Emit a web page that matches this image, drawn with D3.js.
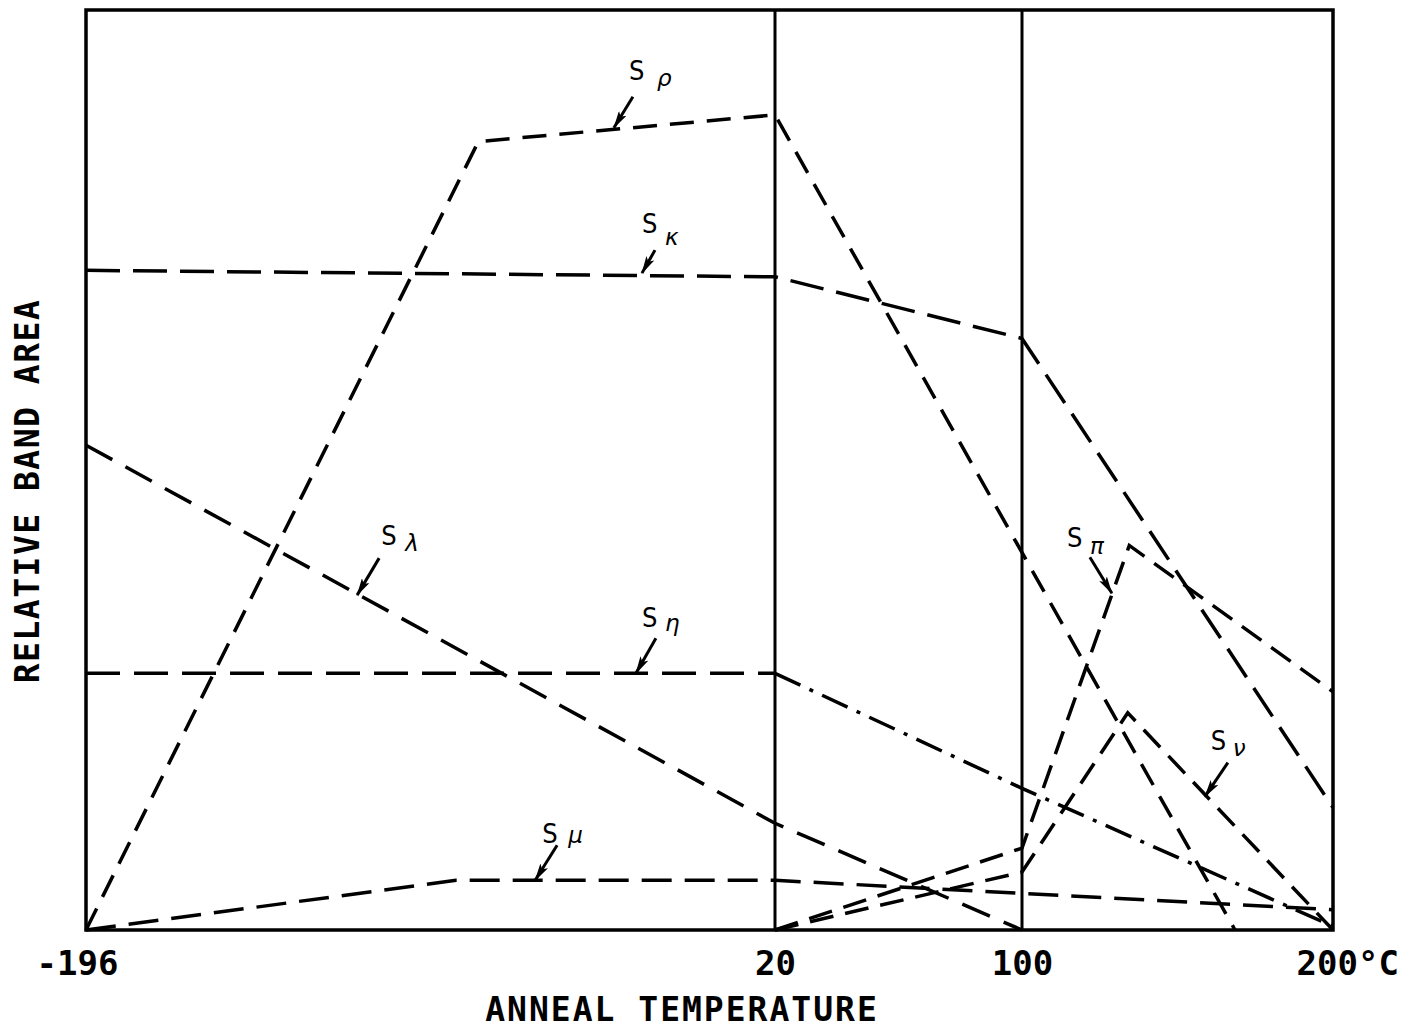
<!DOCTYPE html>
<html>
<head>
<meta charset="utf-8">
<script src="https://cdn.jsdelivr.net/npm/d3@7"></script>
<style>
body{margin:0;background:#fff;}
svg text{font-family:"DejaVu Sans Mono",monospace;fill:#000;}
</style>
</head>
<body>
<svg id="chart"></svg>
<script>
// temperatures marked on the axis (deg C) and how they are printed
const tickTemps = [-196, 20, 100, 200];
const tickLabels = ["-196", "20", "100", "200°C"];

// relative band area (0 = baseline, 100 = top of frame)
const sRho    = [[-196, 0], [-73, 85.7], [20, 88.6], [168.5, 0]];
const sKappa  = [[-196, 71.7], [20, 71.0], [100, 64.3], [200, 13.3]];
const sLambda = [[-196, 52.7], [20, 11.6], [100, 0]];
const sEta    = [[-196, 27.9], [20, 27.9], [100, 15.4], [200, 0.4]];
const sMu     = [[-196, 0], [-80, 5.4], [20, 5.4], [200, 2.2]];
const sPi     = [[20, 0], [100, 8.9], [134.5, 41.8], [200, 25.9]];
const sNu     = [[20, 0], [100, 6.3], [134, 23.6], [200, 0]];

// where each S label points to (deg C, area)
const labelNames = ["ρ", "κ", "λ", "η", "μ", "π", "ν"];
const labelTips  = [[-30.5, 87.2], [-21.7, 71.4], [-111, 36.4], [-23.6, 27.9], [-55.2, 5.4], [128.9, 36.6], [158.8, 14.5]];

const [w, h] = [1403, 1031];
const svg = d3.select("#chart").attr("width", w).attr("height", h);

// the printed axis is not quite linear, so use a piecewise scale through the marked temps
const x = d3.scaleLinear().domain(tickTemps).range([86, 775, 1022, 1333]);
const y = d3.scaleLinear().domain([0, 100]).range([930, 10]);

const line = d3.line().x(d => x(d[0])).y(d => y(d[1]));

// frame + the two vertical rules at 20 and 100
svg.append("rect")
  .attr("x", x(-196)).attr("y", y(100))
  .attr("width", x(200) - x(-196)).attr("height", y(0) - y(100))
  .attr("fill", "none").attr("stroke", "#000").attr("stroke-width", 3.5);
svg.selectAll("line.rule").data([20, 100]).enter().append("line")
  .attr("class", "rule")
  .attr("x1", d => x(d)).attr("x2", d => x(d))
  .attr("y1", y(100)).attr("y2", y(0))
  .attr("stroke", "#000").attr("stroke-width", 3);

// curves
const series = [
  {data: sRho, dash: "24,13"},
  {data: sKappa, dash: "34,13"},
  {data: sLambda, dash: "30,15"},
  {data: sEta.filter(d => d[0] <= 20), dash: "34,14"},
  {data: sEta.filter(d => d[0] >= 20), dash: "28,10,4,10"},
  {data: sMu, dash: "30,13"},
  {data: sPi, dash: "24,12"},
  {data: sNu, dash: "24,12"}
];
svg.selectAll("path.curve").data(series).enter().append("path")
  .attr("class", "curve")
  .attr("d", d => line(d.data))
  .attr("fill", "none").attr("stroke", "#000")
  .attr("stroke-width", 3.5)
  .attr("stroke-dasharray", d => d.dash);

// arrow head for the labels
svg.append("defs").append("marker")
  .attr("id", "head").attr("markerUnits", "userSpaceOnUse")
  .attr("markerWidth", 18).attr("markerHeight", 9)
  .attr("refX", 17).attr("refY", 4.5).attr("orient", "auto")
  .append("path").attr("d", "M0,0 L18,4.5 L0,9 L4,4.5 Z").attr("fill", "#000");

// label layout: arrow start and text offsets from the tip, in px
const labelLayout = [
  {arrow: [19, -31], s: [15, -48], g: [43, -42]},
  {arrow: [13, -23], s: [0, -40], g: [23, -28]},
  {arrow: [22, -37], s: [24, -50], g: [48, -44]},
  {arrow: [20, -35], s: [6, -46], g: [29, -42]},
  {arrow: [22, -35], s: [7, -37], g: [33, -37]},
  {arrow: [-22, -36], s: [-45, -46], g: [-22, -39]},
  {arrow: [23, -34], s: [6, -47], g: [28, -41]}
];

const labels = svg.selectAll("g.lab").data(labelNames).enter().append("g")
  .attr("class", "lab")
  .attr("transform", (d, i) => `translate(${x(labelTips[i][0])},${y(labelTips[i][1])})`);
labels.append("line")
  .attr("x1", (d, i) => labelLayout[i].arrow[0]).attr("y1", (d, i) => labelLayout[i].arrow[1])
  .attr("x2", 0).attr("y2", 0)
  .attr("stroke", "#000").attr("stroke-width", 3)
  .attr("marker-end", "url(#head)");
labels.append("text")
  .attr("x", (d, i) => labelLayout[i].s[0]).attr("y", (d, i) => labelLayout[i].s[1])
  .style("font-family", "'DejaVu Sans Condensed','DejaVu Sans',sans-serif")
  .style("font-size", "27px")
  .text("S");
labels.append("text")
  .attr("x", (d, i) => labelLayout[i].g[0]).attr("y", (d, i) => labelLayout[i].g[1])
  .style("font-family", "'DejaVu Sans',sans-serif")
  .style("font-size", "23px").style("font-style", "italic")
  .text(d => d);

// x axis labels
const xAxis = d3.axisBottom(x).tickValues(tickTemps)
  .tickFormat((d, i) => tickLabels[i]).tickSize(0);
const gx = svg.append("g").attr("transform", `translate(0,${y(0)})`).call(xAxis);
gx.select(".domain").remove();
gx.selectAll("text")
  .attr("y", 45).attr("dy", null)
  .style("font-family", "'DejaVu Sans Mono',monospace")
  .style("font-size", "34px").style("font-weight", "bold");
gx.selectAll("text").filter((d, i) => i === 0).attr("text-anchor", "start").attr("x", -50);
gx.selectAll("text").filter((d, i) => i === tickTemps.length - 1).attr("text-anchor", "start").attr("x", -37);

// axis titles
svg.append("text")
  .attr("x", 682).attr("y", 1021).attr("text-anchor", "middle")
  .style("font-size", "33px").style("font-weight", "bold").style("letter-spacing", "2px")
  .text("ANNEAL TEMPERATURE");
svg.append("text")
  .attr("transform", "translate(39,491) rotate(-90)").attr("text-anchor", "middle")
  .style("font-size", "33px").style("font-weight", "bold").style("letter-spacing", "1.5px")
  .text("RELATIVE BAND AREA");
</script>
</body>
</html>
